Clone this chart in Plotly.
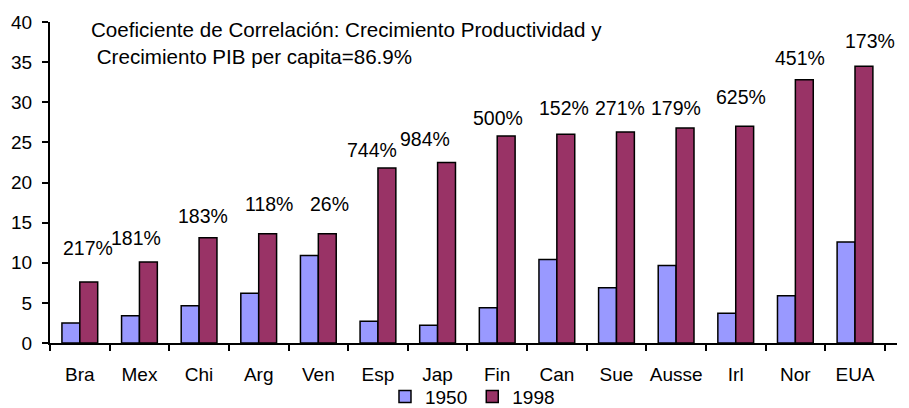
import plotly.graph_objects as go

categories = ["Bra", "Mex", "Chi", "Arg", "Ven", "Esp", "Jap", "Fin", "Can", "Sue", "Ausse", "Irl", "Nor", "EUA"]
values_1950 = [2.5, 3.4, 4.65, 6.2, 10.9, 2.7, 2.2, 4.4, 10.4, 6.9, 9.65, 3.7, 5.9, 12.6]
values_1998 = [7.6, 10.1, 13.1, 13.6, 13.6, 21.8, 22.5, 25.8, 26.0, 26.3, 26.8, 27.0, 32.8, 34.5]
growth_labels = ["217%", "181%", "183%", "118%", "26%", "744%", "984%", "500%", "152%", "271%", "179%", "625%", "451%", "173%"]
y_ticks = [0, 5, 10, 15, 20, 25, 30, 35, 40]

# label placement (offset above 1998 bar in data units, horizontal shift in px)
label_dy = [4.3, 3.0, 2.75, 3.7, 3.7, 2.3, 2.9, 2.3, 3.3, 3.0, 2.5, 3.7, 2.7, 3.1]
label_dx = [8, -3, 4, 10, 11, -6, -13, 1, 7, 4, 0, 5, 5, 15]

FONT = "Liberation Sans, Arial, sans-serif"

fig = go.Figure()
fig.add_trace(go.Bar(x=categories, y=values_1950, name="1950",
                     marker=dict(color="#9999FF", line=dict(color="black", width=1.5))))
fig.add_trace(go.Bar(x=categories, y=values_1998, name="1998",
                     marker=dict(color="#993366", line=dict(color="black", width=1.5))))

for c, v, t, dy, dx in zip(categories, values_1998, growth_labels, label_dy, label_dx):
    fig.add_annotation(x=c, y=v + dy, text=t, showarrow=False, xshift=dx,
                       font=dict(family=FONT, size=19.5, color="black"))

fig.add_annotation(xref="paper", yref="paper", x=0.046, y=1.02, xanchor="left", yanchor="top",
                   align="left", showarrow=False,
                   text="Coeficiente de Correlación: Crecimiento Productividad y<br> Crecimiento PIB per capita=86.9%",
                   font=dict(family=FONT, size=20.6, color="black"))

fig.update_layout(
    width=909, height=408,
    margin=dict(l=50, r=12, t=22, b=65, autoexpand=False),
    paper_bgcolor="white", plot_bgcolor="white",
    barmode="group", bargap=0.4, bargroupgap=0,
    font=dict(family=FONT, size=19, color="black"),
    showlegend=True,
    legend=dict(orientation="h", x=0.3955, y=-0.167, xanchor="left", yanchor="middle",
                font=dict(size=19), itemwidth=30, tracegroupgap=0,
                bgcolor="rgba(0,0,0,0)"),
)
fig.update_xaxes(showline=True, linecolor="black", linewidth=2, ticks="outside",
                 tickson="boundaries", ticklen=6, tickwidth=2, tickcolor="black",
                 showgrid=False, ticklabelstandoff=13, tickangle=0)
fig.update_yaxes(range=[0, 40], tickvals=y_ticks, showline=True, linecolor="black", linewidth=2,
                 ticks="outside", ticklen=6, tickwidth=2, tickcolor="black", showgrid=False,
                 zeroline=False, ticklabelstandoff=6)

fig.write_html("out.html", config={"displayModeBar": False},
               post_script="document.body.style.margin='0';")
